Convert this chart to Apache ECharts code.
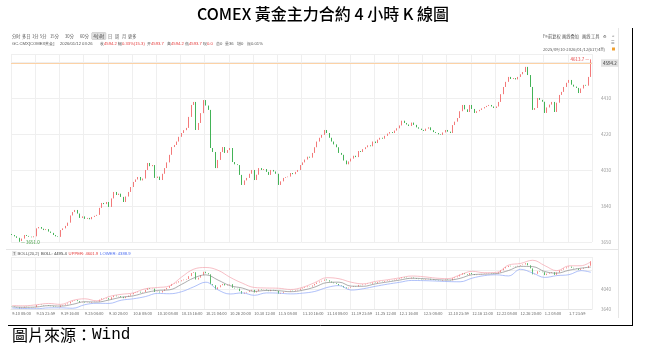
<!DOCTYPE html>
<html>
<head>
<meta charset="utf-8">
<script src="https://cdn.jsdelivr.net/npm/echarts@6/dist/echarts.min.js"></script>
<style>
html, body { margin: 0; padding: 0; background: #fff; }
#main { width: 646px; height: 352px; }
</style>
</head>
<body>
<div id="main"></div>
<script>
// x axis tick labels (one every 10 bars)
const xLabels = ['9.10 08:00', '9.15 23:59', '9.19 16:00', '9.25 04:00', '9.30 20:00', '10.6 08:00',
    '10.10 08:00', '10.15 16:00', '10.21 04:00', '10.26 20:00', '10.30 12:00', '11.5 08:00',
    '11.10 16:00', '11.14 08:00', '11.19 23:59', '11.25 12:00', '12.1 16:00', '12.5 08:00',
    '12.10 23:59', '12.16 12:00', '12.22 08:00', '12.26 20:00', '1.2 08:00', '1.7 23:59'];

// closing prices
const closes = [
    3687, 3680, 3672, 3655, 3668, 3687, 3682, 3678, 3675, 3680,
    3722, 3729, 3720, 3713, 3718, 3705, 3698, 3687, 3680, 3677,
    3713, 3722, 3735, 3752, 3790, 3808, 3819, 3800, 3777, 3785,
    3772, 3777, 3770, 3782, 3788, 3793, 3830, 3856, 3850, 3861,
    3835, 3880, 3914, 3898, 3905, 3888, 3861, 3890, 3914, 3940,
    3967, 3980, 3993, 3975, 3985, 4030, 4067, 4050, 4056, 3988,
    3995, 3977, 4010, 4040, 4070, 4110, 4151, 4162, 4180, 4205,
    4225, 4240, 4252, 4310, 4373, 4389, 4241, 4278, 4330, 4399,
    4370, 4347, 4146, 4125, 4040, 4083, 4125, 4151, 4120, 4135,
    4146, 4072, 4060, 4056, 4004, 3951, 3975, 3988, 4010, 4030,
    3977, 4005, 4040, 4030, 4035, 4020, 4004, 4030, 4022, 4010,
    3951, 3970, 3988, 3992, 3995, 4014, 4008, 4020, 4030, 4056,
    4070, 4085, 4100, 4095, 4120, 4150, 4180, 4200, 4215, 4241,
    4225, 4200, 4180, 4165, 4150, 4120, 4110, 4080, 4060, 4075,
    4090, 4105, 4098, 4130, 4125, 4140, 4150, 4160, 4155, 4180,
    4172, 4190, 4200, 4195, 4210, 4222, 4230, 4225, 4238, 4250,
    4265, 4290, 4278, 4270, 4262, 4280, 4268, 4255, 4248, 4241,
    4236, 4248, 4255, 4240, 4230, 4225, 4218, 4215, 4228, 4241,
    4232, 4225, 4267, 4285, 4304, 4340, 4373, 4350, 4336, 4373,
    4352, 4331, 4340, 4347, 4355, 4362, 4368, 4373, 4365, 4357,
    4365, 4389, 4430, 4468, 4495, 4521, 4510, 4515, 4508, 4521,
    4535, 4547, 4574, 4531, 4468, 4347, 4357, 4410, 4400, 4390,
    4331, 4360, 4375, 4389, 4336, 4385, 4426, 4442, 4468, 4490,
    4505, 4480, 4470, 4463, 4436, 4460, 4479, 4475, 4521, 4594.2
];
const firstOpen = 3692;
const lowMark = [3, 3651.0];     // [bar, lowest price]
const highMark = [239, 4613.7];  // [bar, highest price]

// BOLL(20,2) lines, read every 5 bars
const bollBars = [0, 5, 10, 15, 20, 25, 30, 35, 40, 45, 50, 55, 60, 65, 70, 75, 80, 85, 90, 95,
    100, 105, 110, 115, 120, 125, 130, 135, 140, 145, 150, 155, 160, 165, 170, 175, 180, 185, 190, 195,
    200, 205, 210, 215, 220, 225, 230, 235, 239];
const bollMid = [3685, 3675, 3681, 3708, 3699, 3735, 3788, 3781, 3824, 3879, 3908, 3973, 4018, 4031, 4143,
    4272, 4336, 4230, 4116, 4068, 3999, 4018, 4013, 3993, 4023, 4088, 4178, 4187, 4106, 4103, 4152, 4191,
    4229, 4267, 4258, 4240, 4229, 4265, 4339, 4350, 4362, 4424, 4509, 4504, 4404, 4371, 4430, 4472, 4495.4];
const bollUpper = [3710, 3705, 3726, 3753, 3734, 3815, 3848, 3806, 3894, 3939, 3968, 4053, 4078, 4111, 4293,
    4452, 4486, 4430, 4286, 4168, 4079, 4068, 4063, 4038, 4083, 4178, 4278, 4257, 4186, 4153, 4202, 4236,
    4274, 4312, 4298, 4270, 4259, 4335, 4409, 4380, 4387, 4534, 4569, 4634, 4524, 4421, 4520, 4522, 4601.9];
const bollLower = [3660, 3650, 3645, 3663, 3664, 3655, 3728, 3756, 3754, 3819, 3848, 3893, 3958, 3951, 3993,
    4092, 4186, 4030, 3946, 3968, 3919, 3968, 3963, 3948, 3963, 3998, 4078, 4117, 4026, 4053, 4102, 4146,
    4184, 4222, 4218, 4210, 4199, 4195, 4269, 4320, 4337, 4314, 4449, 4374, 4284, 4321, 4340, 4422, 4388.9];

const UP = '#f26b6b';
const DOWN = '#2eaa44';
const FONT = '"Noto Sans CJK SC", "Noto Sans", sans-serif';

// build candles: open = previous close
const candles = closes.map((c, i) => {
    const o = i === 0 ? firstOpen : closes[i - 1];
    let lo = Math.min(o, c), hi = Math.max(o, c);
    if (i === lowMark[0]) lo = lowMark[1];
    if (i === highMark[0]) hi = highMark[1];
    return [o, c, lo, hi];
});
const categories = closes.map((c, i) => (i % 10 === 0 ? xLabels[i / 10] : ''));
const lastClose = closes[closes.length - 1];
const pairs = arr => bollBars.map((b, k) => [b, arr[k]]);

// header texts
const txt = (x, y, text, extra) => ({
    type: 'text', x: x, y: y, z: 10,
    style: Object.assign({ text: text, fontSize: 4.2, fontFamily: FONT, fill: '#555', verticalAlign: 'middle' }, extra || {})
});
const richRed = { g: { fill: '#555', fontSize: 4.2 }, r: { fill: '#e43c3c', fontSize: 4.2 } };

const tabs = [[12, '分时'], [22, '多日'], [32, '1分'], [40, '5分'], [50, '15分'], [65, '30分'], [80, '60分'],
    [108, '日'], [115, '周'], [122, '月'], [128, '更多']];
const quote = [[12, '{g|GC.CMX[COMEX黄金]}'], [60, '{g|2026/01/12 03:26}'], [100, '{g|收}{r|4594.2}'],
    [118, '{g|幅}{r|0.33%(15.3)}'], [147, '{g|开}{r|4593.7}'], [167, '{g|高}{r|4594.2}'],
    [185, '{g|低}{r|4593.7}'], [203, '{g|现}{r|0.0}'], [216, '{g|总}{g|0}'], [225, '{g|量}{g|36}'],
    [237, '{g|增}{g|0}'], [247, '{g|振}{g|0.01%}']];
const tools = [[543, 'F9'], [548, '前复权'], [562, '画线叠加'], [582, '画线'], [591, '工具'], [603, '⚙'], [612, '<']];

const graphics = [
    { type: 'text', left: 'center', top: 6,
      style: { text: 'COMEX 黃金主力合約 4 小時 K 線圖', fontSize: 16, fontFamily: '"Noto Sans CJK TC"', fontWeight: 500, fill: '#000' } },
    { type: 'text', left: 12, top: 327,
      style: { text: '{c|圖片來源：}{w|Wind}', fill: '#000',
               rich: { c: { fontSize: 16, fontFamily: '"Noto Sans CJK TC"', fill: '#000' },
                       w: { fontSize: 16, fontFamily: '"Liberation Mono", "DejaVu Sans Mono", monospace', fill: '#000' } } } },
    { type: 'line', shape: { x1: 8, y1: 325.5, x2: 633, y2: 325.5 }, style: { stroke: '#000', lineWidth: 1 } },
    { type: 'line', shape: { x1: 632.5, y1: 28, x2: 632.5, y2: 325 }, style: { stroke: '#000', lineWidth: 1 } },
    { type: 'line', shape: { x1: 618.5, y1: 28, x2: 618.5, y2: 318 }, style: { stroke: '#e6e6e6', lineWidth: 1 } },
    { type: 'line', shape: { x1: 6, y1: 249.5, x2: 618, y2: 249.5 }, style: { stroke: '#e6e6e6', lineWidth: 1 } },
    txt(92, 36, '4小时', { backgroundColor: '#dddddd', borderColor: '#bbbbbb', borderWidth: 0.5, padding: [1, 1.5], fill: '#333' }),
    txt(543, 49, '2025/09/10-2026/01/12(617/4H)'),
    { type: 'rect', shape: { x: 612, y: 47.5, width: 3, height: 3 }, style: { fill: '#f0a030' } },
    txt(611, 42, '☰', { fill: '#888' }),
    txt(12, 253.5, '{t|T} {g|BOLL(20,2)}  {d|BOLL: ' + bollMid[bollMid.length - 1].toFixed(1) + '}  {u|UPPER: ' +
        bollUpper[bollUpper.length - 1].toFixed(1) + '}  {l|LOWER: ' + bollLower[bollLower.length - 1].toFixed(1) + '}', {
        rich: {
            t: { fontSize: 4, fill: '#555', backgroundColor: '#e8e8e8', padding: [0.5, 1] },
            g: { fontSize: 4.2, fill: '#555' },
            d: { fontSize: 4.2, fill: '#333' },
            u: { fontSize: 4.2, fill: '#e43c3c' },
            l: { fontSize: 4.2, fill: '#4a6cf0' }
        }
    })
];
tabs.forEach(t => graphics.push(txt(t[0], 36, t[1])));
quote.forEach(q => graphics.push(txt(q[0], 44, q[1], { rich: richRed })));
tools.forEach(t => graphics.push(txt(t[0], 36, t[1])));

const yLabel = { fontSize: 4.5, color: '#999', margin: 9, fontFamily: FONT };
const split = { show: true, lineStyle: { color: '#efefef', width: 1 } };
const tag = (val) => ({
    show: true, position: 'end', distance: 9, formatter: val.toFixed(1),
    fontSize: 4.5, color: '#333', backgroundColor: '#e2e2e2', padding: [1.5, 2], fontFamily: FONT
});

const option = {
    animation: false,
    backgroundColor: '#fff',
    graphic: graphics,
    grid: [
        { left: 11, top: 54, width: 581, height: 188 },
        { left: 11, top: 257, width: 581, height: 52 }
    ],
    xAxis: [
        { type: 'category', gridIndex: 0, data: categories, boundaryGap: true,
          axisLine: { show: false }, axisTick: { show: false }, axisLabel: { show: false },
          splitLine: Object.assign({ interval: 9 }, split) },
        { type: 'category', gridIndex: 1, data: categories, boundaryGap: true,
          axisLine: { show: true, lineStyle: { color: '#e6e6e6' } }, axisTick: { show: false },
          axisLabel: { interval: 9, align: 'left', fontSize: 4, color: '#666', margin: 2.5, fontFamily: FONT },
          splitLine: Object.assign({ interval: 9 }, split) }
    ],
    yAxis: [
        { type: 'value', gridIndex: 0, position: 'right', min: 3650, max: 4642, interval: 190,
          axisLine: { show: false }, axisTick: { show: false },
          axisLabel: Object.assign({ showMaxLabel: false, formatter: v => (v >= 4600 ? '' : v) }, yLabel),
          splitLine: split },
        { type: 'value', gridIndex: 1, position: 'right', min: 3640, max: 4700, interval: 400,
          axisLine: { show: false }, axisTick: { show: false },
          axisLabel: Object.assign({ showMaxLabel: false, formatter: v => (v > 4100 ? '' : v) }, yLabel),
          splitLine: split }
    ],
    series: [
        {
            type: 'candlestick', xAxisIndex: 0, yAxisIndex: 0, data: candles, barWidth: 1.1, clip: false,
            itemStyle: { color: UP, color0: DOWN, borderColor: UP, borderColor0: DOWN, borderWidth: 0.9 },
            markPoint: {
                symbol: 'circle', symbolSize: 1, itemStyle: { color: 'rgba(0,0,0,0)' },
                data: [
                    { type: 'min', valueDim: 'lowest',
                      label: { position: 'right', distance: 1, color: '#3a9a3a', fontSize: 4.5, fontFamily: FONT,
                               formatter: p => '— ' + (+p.value).toFixed(1) } },
                    { type: 'max', valueDim: 'highest',
                      label: { position: 'left', distance: 1, color: '#e43c3c', fontSize: 4.5, fontFamily: FONT,
                               formatter: p => (+p.value).toFixed(1) + ' —' } }
                ]
            },
            markLine: {
                silent: true, symbol: ['none', 'none'],
                lineStyle: { color: '#fcd2a6', type: 'solid', width: 1 },
                label: tag(lastClose),
                data: [{ yAxis: lastClose }]
            }
        },
        {
            type: 'candlestick', xAxisIndex: 1, yAxisIndex: 1, data: candles, barWidth: 1,
            itemStyle: { color: UP, color0: DOWN, borderColor: UP, borderColor0: DOWN, borderWidth: 0.8 }
        },
        {
            type: 'line', xAxisIndex: 1, yAxisIndex: 1, data: pairs(bollMid), smooth: 0.4, showSymbol: false,
            lineStyle: { color: '#8a8a8a', width: 0.7 },
            markLine: {
                silent: true, symbol: ['none', 'none'], lineStyle: { opacity: 0 },
                label: tag(bollMid[bollMid.length - 1]),
                data: [{ yAxis: bollMid[bollMid.length - 1] }]
            }
        },
        {
            type: 'line', xAxisIndex: 1, yAxisIndex: 1, data: pairs(bollUpper), smooth: 0.4, showSymbol: false,
            lineStyle: { color: '#f4a3ae', width: 0.7 }
        },
        {
            type: 'line', xAxisIndex: 1, yAxisIndex: 1, data: pairs(bollLower), smooth: 0.4, showSymbol: false,
            lineStyle: { color: '#8ea6f6', width: 0.7 }
        }
    ]
};

const myChart = echarts.init(document.getElementById('main'));
myChart.setOption(option);
</script>
</body>
</html>
